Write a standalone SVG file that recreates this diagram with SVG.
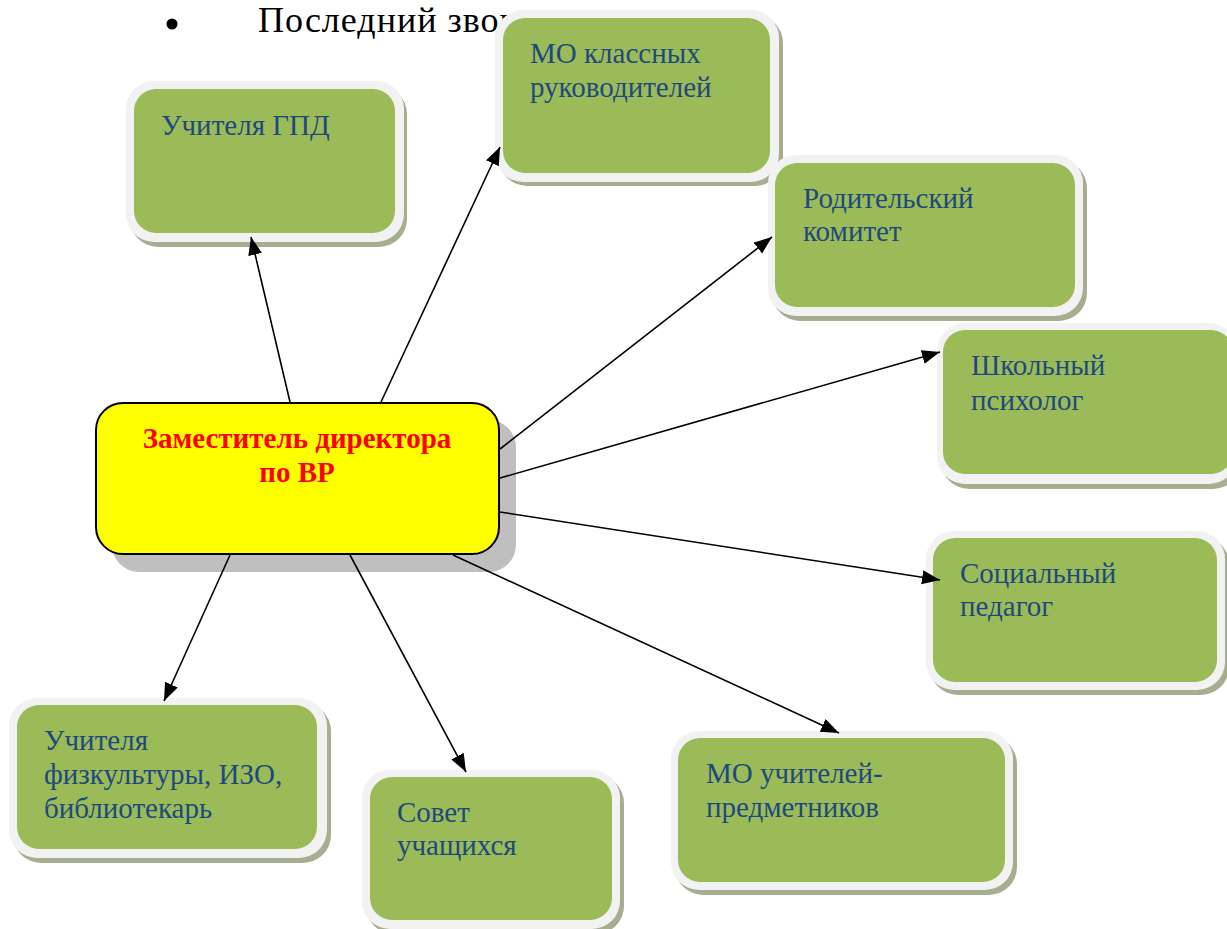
<svg xmlns="http://www.w3.org/2000/svg" width="1227" height="929" viewBox="0 0 1227 929">
<style>
.sh{fill:#a7ae90}
.ou{fill:#f2f2f2}
.in{fill:#9bbb59}
.t{font-family:"Liberation Serif","Times New Roman",serif;font-size:29px;fill:#1f497d}
.c{stroke:#000;stroke-width:1.6;fill:none;marker-end:url(#ah)}
.main{font-family:"Liberation Serif","Times New Roman",serif;font-size:29px;font-weight:bold;fill:#ff0000;text-anchor:middle}
</style>
<defs>
<marker id="ah" markerUnits="userSpaceOnUse" markerWidth="20" markerHeight="16" refX="18" refY="7" orient="auto">
<path d="M0,0 L18,7 L0,14 z" fill="#000"/>
</marker>
</defs>
<rect width="1227" height="929" fill="#fff"/>
<g id="bullet">
<circle cx="172" cy="24" r="5.5" fill="#000"/>
<text x="258" y="32" font-family="Liberation Serif, Times New Roman, serif" font-size="36" letter-spacing="1" fill="#000">Последний звон</text>
</g>
<g id="n-gpd">
<rect class="sh" x="130" y="86" width="277" height="161" rx="28"/>
<rect class="ou" x="126" y="81" width="278" height="161" rx="28"/>
<rect class="in" x="134" y="89" width="261" height="144" rx="22"/>
<text class="t" x="161" y="135">Учителя ГПД</text>
</g>
<g id="n-mo-kl">
<rect class="sh" x="499" y="15" width="284" height="171" rx="28"/>
<rect class="ou" x="495" y="10" width="284" height="172" rx="28"/>
<rect class="in" x="503" y="18" width="267" height="155" rx="22"/>
<text class="t" x="530" y="63">МО классных</text>
<text class="t" x="530" y="97">руководителей</text>
</g>
<g id="n-rod">
<rect class="sh" x="772" y="160" width="315" height="161" rx="28"/>
<rect class="ou" x="768" y="155" width="315" height="161" rx="28"/>
<rect class="in" x="775" y="163" width="300" height="144" rx="22"/>
<text class="t" x="803" y="208">Родительский</text>
<text class="t" x="803" y="241">комитет</text>
</g>
<g id="n-psy">
<rect class="sh" x="941" y="328" width="300" height="161" rx="28"/>
<rect class="ou" x="937" y="323" width="300" height="161" rx="28"/>
<rect class="in" x="943" y="330" width="290" height="144" rx="22"/>
<text class="t" x="971" y="375">Школьный</text>
<text class="t" x="971" y="410">психолог</text>
</g>
<g id="n-soc">
<rect class="sh" x="930" y="536" width="299" height="159" rx="28"/>
<rect class="ou" x="926" y="531" width="299" height="159" rx="28"/>
<rect class="in" x="933" y="538" width="284" height="144" rx="22"/>
<text class="t" x="960" y="583">Социальный</text>
<text class="t" x="960" y="616">педагог</text>
</g>
<g id="n-mo-pr">
<rect class="sh" x="675" y="736" width="342" height="159" rx="28"/>
<rect class="ou" x="671" y="731" width="342" height="159" rx="28"/>
<rect class="in" x="678" y="738" width="327" height="144" rx="22"/>
<text class="t" x="706" y="783">МО учителей-</text>
<text class="t" x="706" y="817">предметников</text>
</g>
<g id="n-sovet">
<rect class="sh" x="366" y="775" width="258" height="159" rx="28"/>
<rect class="ou" x="362" y="770" width="258" height="159" rx="28"/>
<rect class="in" x="370" y="777" width="242" height="143" rx="22"/>
<text class="t" x="397" y="822">Совет</text>
<text class="t" x="397" y="855">учащихся</text>
</g>
<g id="n-fiz">
<rect class="sh" x="13" y="703" width="318" height="160" rx="28"/>
<rect class="ou" x="9" y="698" width="318" height="160" rx="28"/>
<rect class="in" x="17" y="705" width="300" height="144" rx="22"/>
<text class="t" x="44" y="750">Учителя</text>
<text class="t" x="44" y="784">физкультуры, ИЗО,</text>
<text class="t" x="44" y="818">библиотекарь</text>
</g>
<g id="n-main">
<rect x="112" y="420" width="404" height="152" rx="27" fill="#bfbfbf"/>
<rect x="96" y="403" width="403" height="151" rx="27" fill="#ffff00" stroke="#000" stroke-width="2"/>
<text class="main" x="297" y="448">Заместитель директора</text>
<text class="main" x="297" y="482">по ВР</text>
</g>
<g id="connectors">
<line class="c" x1="290" y1="402" x2="251" y2="237"/>
<line class="c" x1="381" y1="402" x2="500" y2="147"/>
<line class="c" x1="500" y1="449" x2="772" y2="237"/>
<line class="c" x1="500" y1="478" x2="940" y2="352"/>
<line class="c" x1="500" y1="512" x2="940" y2="580"/>
<line class="c" x1="453" y1="555" x2="839" y2="733"/>
<line class="c" x1="350" y1="555" x2="466" y2="772"/>
<line class="c" x1="230" y1="555" x2="164" y2="701"/>
</g>
</svg>
